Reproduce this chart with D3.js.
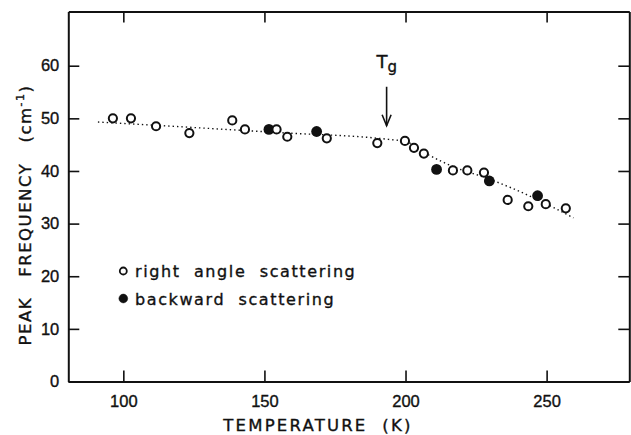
<!DOCTYPE html>
<html>
<head>
<meta charset="utf-8">
<script src="https://cdn.jsdelivr.net/npm/d3@7"></script>
<style>
  body { margin: 0; background: #fff; }
  svg { display: block; font-family: "DejaVu Sans", sans-serif; }
  svg text { stroke: #111; stroke-width: 0.35px; }
</style>
</head>
<body>
<div id="chart"></div>
<script>
// right angle scattering (open circles)
const openTemp = [96.3, 102.7, 111.6, 123.4, 138.6, 143.1, 154.3, 158.1, 172.1, 190.0,
                  199.8, 203.0, 206.5, 216.8, 221.9, 227.8, 236.2, 243.5, 249.7, 256.8];
const openFreq = [50.0, 50.0, 48.5, 47.2, 49.6, 47.9, 47.9, 46.5, 46.2, 45.3,
                  45.7, 44.4, 43.3, 40.1, 40.1, 39.7, 34.5, 33.3, 33.7, 32.9];
// backward scattering (filled circles)
const backTemp = [151.6, 168.5, 211.0, 229.7, 246.8];
const backFreq = [47.9, 47.5, 40.3, 38.1, 35.3];
// dotted guide line
const fitTemp = [91, 155, 194, 200, 207, 217, 229, 245, 259.5];
const fitFreq = [49.3, 47.3, 46.0, 45.6, 43.4, 40.8, 38.6, 35.0, 31.1];

const xTicks = [100, 150, 200, 250];
const yTicks = [0, 10, 20, 30, 40, 50, 60];
const tg = 193.3;
const legendItems = ["right angle scattering", "backward scattering"];

const width = 631, height = 435;
const ink = '#111';

const svg = d3.select('#chart').append('svg')
    .attr('width', width)
    .attr('height', height);

const x = d3.scaleLinear().domain([80.5, 279.3]).range([68.3, 629.3]);
const y = d3.scaleLinear().domain([0, 70.3]).range([381.5, 11.5]);

const [x0, x1] = x.range();
const [y0, y1] = y.range();

// frame with inward ticks on all four sides
function styleAxis(g) {
    g.select('.domain').attr('stroke', ink).attr('stroke-width', 2);
    g.selectAll('.tick line').attr('stroke', ink).attr('stroke-width', 1.6);
    g.selectAll('.tick text').attr('fill', ink).style('font-size', '16.5px');
}

svg.append('g')
    .attr('transform', `translate(0,${y0})`)
    .call(d3.axisBottom(x).tickValues(xTicks).tickSizeInner(-11).tickSizeOuter(0).tickPadding(14))
    .call(styleAxis);

svg.append('g')
    .attr('transform', `translate(0,${y1})`)
    .call(d3.axisTop(x).tickValues(xTicks).tickSizeInner(-11).tickSizeOuter(0).tickFormat(''))
    .call(styleAxis);

svg.append('g')
    .attr('transform', `translate(${x0},0)`)
    .call(d3.axisLeft(y).tickValues(yTicks).tickSizeInner(-11).tickSizeOuter(0).tickPadding(9))
    .call(styleAxis);

svg.append('g')
    .attr('transform', `translate(${x1},0)`)
    .call(d3.axisRight(y).tickValues(yTicks.slice(1)).tickSizeInner(-11).tickSizeOuter(0).tickFormat(''))
    .call(styleAxis);

// axis titles
svg.append('text')
    .attr('x', 318)
    .attr('y', 431)
    .attr('text-anchor', 'middle')
    .attr('fill', ink)
    .style('font-size', '16.5px')
    .style('letter-spacing', '2.2px')
    .style('white-space', 'pre')
    .text('TEMPERATURE  (K)');

const yTitle = svg.append('text')
    .attr('transform', 'translate(31,215) rotate(-90)')
    .attr('text-anchor', 'middle')
    .attr('fill', ink)
    .style('font-size', '16.5px')
    .style('letter-spacing', '1.5px')
    .style('white-space', 'pre');
yTitle.append('tspan').text('PEAK   FREQUENCY   (cm');
yTitle.append('tspan').attr('dy', -7).style('font-size', '11px').text('-1');
yTitle.append('tspan').attr('dy', 7).text(')');

// dotted guide line
const fitData = fitTemp.map((t, i) => ({ t, f: fitFreq[i] }));
const line = d3.line()
    .x(d => x(d.t))
    .y(d => y(d.f))
    .curve(d3.curveMonotoneX);

svg.append('path')
    .datum(fitData)
    .attr('d', line)
    .attr('fill', 'none')
    .attr('stroke', ink)
    .attr('stroke-width', 1.4)
    .attr('stroke-dasharray', '1.4,3');

// data points
const openData = openTemp.map((t, i) => ({ t, f: openFreq[i] }));
const backData = backTemp.map((t, i) => ({ t, f: backFreq[i] }));

svg.append('g').selectAll('circle')
    .data(backData)
    .join('circle')
    .attr('cx', d => x(d.t))
    .attr('cy', d => y(d.f))
    .attr('r', 5.4)
    .attr('fill', ink);

svg.append('g').selectAll('circle')
    .data(openData)
    .join('circle')
    .attr('cx', d => x(d.t))
    .attr('cy', d => y(d.f))
    .attr('r', 4.1)
    .attr('fill', '#fff')
    .attr('stroke', ink)
    .attr('stroke-width', 2);

// Tg arrow
const ax = x(tg);
svg.append('line')
    .attr('x1', ax).attr('x2', ax)
    .attr('y1', y(56)).attr('y2', y(48.6))
    .attr('stroke', ink).attr('stroke-width', 1.6);
svg.append('path')
    .attr('d', `M${ax - 4.5},${y(48.6) - 11} L${ax},${y(48.6)} L${ax + 4.5},${y(48.6) - 11}`)
    .attr('fill', 'none')
    .attr('stroke', ink)
    .attr('stroke-width', 1.6);

const tgLabel = svg.append('text')
    .attr('x', ax - 10)
    .attr('y', y(59.6))
    .attr('fill', ink)
    .style('font-size', '18px');
tgLabel.append('tspan').text('T');
tgLabel.append('tspan').attr('dy', 4).style('font-size', '15px').text('g');

// legend
const legend = svg.append('g');
legendItems.forEach((label, i) => {
    const ly = 271 + i * 27.5;
    legend.append('circle')
        .attr('cx', 123.3)
        .attr('cy', ly)
        .attr('r', i === 0 ? 3.5 : 4.4)
        .attr('fill', i === 0 ? '#fff' : ink)
        .attr('stroke', ink)
        .attr('stroke-width', i === 0 ? 1.8 : 0.5);
    legend.append('text')
        .attr('x', 135)
        .attr('y', ly + 6)
        .attr('fill', ink)
        .style('font-size', '16px')
        .style('letter-spacing', '1.6px')
        .style('white-space', 'pre')
        .text(label.replace(/ /g, '  '));
});
</script>
</body>
</html>
